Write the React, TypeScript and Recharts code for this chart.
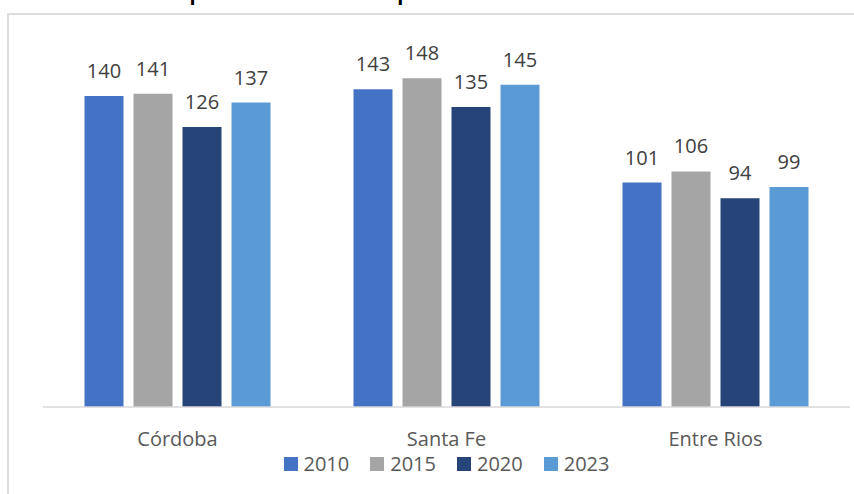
import { BarChart, Bar, XAxis, YAxis, Legend, LabelList } from "recharts"

const provinces = ["Córdoba", "Santa Fe", "Entre Rios"]
const years = ["2010", "2015", "2020", "2023"]
const values2010 = [140, 143, 101]
const values2015 = [141, 148, 106]
const values2020 = [126, 135, 94]
const values2023 = [137, 145, 99]
const colors = ["#4472C4", "#A5A5A5", "#264478", "#5B9BD5"]
const title = "Comparación anual de exportaciones en millones de dólares"

const seriesValues = [values2010, values2015, values2020, values2023]

const data = provinces.map((province, i) => {
  const row: Record<string, string | number> = { province }
  years.forEach((y, j) => {
    row[y] = seriesValues[j][i]
  })
  return row
})

function LegendRow() {
  return (
    <div style={{ display: "flex", justifyContent: "center", alignItems: "center", height: 28, gap: 21 }}>
      {years.map((y, i) => (
        <div key={y} style={{ display: "flex", alignItems: "center", gap: 6 }}>
          <span style={{ display: "inline-block", width: 14, height: 14, background: colors[i] }} />
          <span style={{ fontSize: 20, color: "#595959", lineHeight: "28px" }}>{y}</span>
        </div>
      ))}
    </div>
  )
}

export default function App() {
  return (
    <div
      style={{
        position: "fixed",
        left: 0,
        top: 0,
        width: 854,
        height: 494,
        background: "#fff",
        fontFamily: "'Open Sans', sans-serif",
        overflow: "hidden",
      }}
    >
      <div
        style={{
          position: "absolute",
          left: 7,
          top: 13,
          width: 860,
          height: 500,
          borderTop: "2px solid #dcdcdc",
          borderLeft: "2px solid #dcdcdc",
          boxSizing: "border-box",
        }}
      />
      {/* title is cropped at the top edge in the reference */}
      <svg width={854} height={20} style={{ position: "absolute", left: 0, top: 0 }}>
        <text x={445} y={0} textAnchor="middle" fontSize={20} fontWeight="bold" fill="#000">
          {title}
        </text>
      </svg>
      <div style={{ position: "absolute", left: 0, top: 0 }}>
        <BarChart
          width={854}
          height={494}
          data={data}
          margin={{ top: 51.5, right: 4, left: 43, bottom: 19 }}
          barCategoryGap={41.5}
          barGap={10}
        >
          <XAxis
            dataKey="province"
            height={40}
            axisLine={{ stroke: "#d9d9d9", strokeWidth: 1.5 }}
            tickLine={false}
            tickSize={0}
            tickMargin={25}
            tick={{ fill: "#595959", fontSize: 20 }}
          />
          <YAxis hide domain={[0, 160]} />
          <Legend verticalAlign="bottom" wrapperStyle={{ bottom: 16 }} content={() => <LegendRow />} />
          {years.map((y, i) => (
            <Bar key={y} dataKey={y} fill={colors[i]} isAnimationActive={false}>
              <LabelList dataKey={y} position="top" offset={18} fill="#404040" fontSize={20} />
            </Bar>
          ))}
        </BarChart>
      </div>
    </div>
  )
}
